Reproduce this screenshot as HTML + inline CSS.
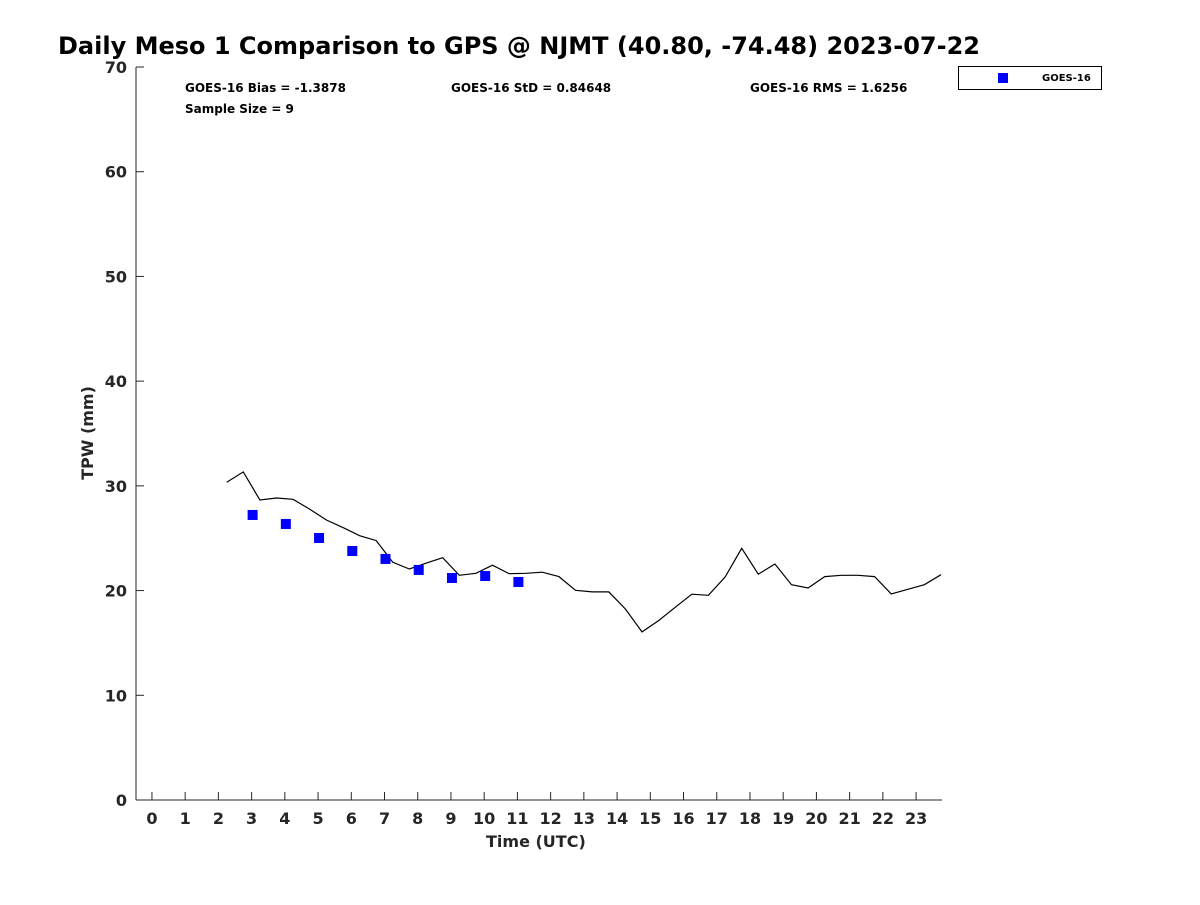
<!DOCTYPE html>
<html><head><meta charset="utf-8"><style>
body{margin:0;background:#fff;}
svg text{font-family:"DejaVu Sans","Liberation Sans",sans-serif;font-weight:bold;}
</style></head><body>
<svg id="chart" width="1200" height="900" viewBox="0 0 1200 900">
<text x="58" y="54" font-size="24" fill="#000">Daily Meso 1 Comparison to GPS @ NJMT (40.80, -74.48) 2023-07-22</text>
<g id="axes"></g>
<g id="plot"></g>
<text x="185" y="92" font-size="12" fill="#000">GOES-16 Bias = -1.3878</text>
<text x="451" y="92" font-size="12" fill="#000">GOES-16 StD = 0.84648</text>
<text x="750" y="92" font-size="12" fill="#000">GOES-16 RMS = 1.6256</text>
<text x="185" y="113" font-size="12" fill="#000">Sample Size = 9</text>
<g>
<rect x="958.5" y="66.5" width="143" height="23" fill="#fff" stroke="#000" stroke-width="1"/>
<rect x="998" y="73" width="10" height="10" fill="#0000ff"/>
<text x="1042" y="81" font-size="10" fill="#000">GOES-16</text>
</g>
<text x="486" y="847" font-size="16" fill="#262626">Time (UTC)</text>
<text transform="translate(93,433) rotate(-90)" text-anchor="middle" font-size="16" fill="#262626">TPW (mm)</text>
</svg>
<script>
const gpsTimes=[2.25,2.75,3.25,3.75,4.25,4.75,5.25,5.75,6.25,6.75,7.25,7.75,8.25,8.75,9.25,9.75,10.25,10.75,11.25,11.75,12.25,12.75,13.25,13.75,14.25,14.75,15.25,15.75,16.25,16.75,17.25,17.75,18.25,18.75,19.25,19.75,20.25,20.75,21.25,21.75,22.25,22.75,23.25,23.75];
const gpsValues=[30.34,31.33,28.65,28.84,28.72,27.77,26.74,26.01,25.24,24.77,22.70,22.06,22.61,23.14,21.46,21.65,22.42,21.61,21.65,21.75,21.33,20.03,19.87,19.87,18.24,16.05,17.13,18.40,19.65,19.55,21.30,24.04,21.56,22.54,20.56,20.25,21.33,21.46,21.46,21.33,19.68,20.12,20.56,21.52];
const goesTimes=[3.03,4.03,5.03,6.03,7.03,8.03,9.03,10.03,11.03];
const goesValues=[27.22,26.36,25.02,23.78,23.02,21.97,21.20,21.39,20.82];
const xTicks=[0,1,2,3,4,5,6,7,8,9,10,11,12,13,14,15,16,17,18,19,20,21,22,23];
const yTicks=[0,10,20,30,40,50,60,70];
const NS='http://www.w3.org/2000/svg';
const X0=136,X1=942,Y0=800,Y1=67,xmin=-0.48,xmax=23.78,ymin=0,ymax=70;
function xs(v){return X0+(v-xmin)/(xmax-xmin)*(X1-X0);}
function ys(v){return Y0-(v-ymin)/(ymax-ymin)*(Y0-Y1);}
function mk(tag,attrs,parent){const e=document.createElementNS(NS,tag);for(const k in attrs)e.setAttribute(k,attrs[k]);parent.appendChild(e);return e;}
const axes=document.getElementById('axes'),plot=document.getElementById('plot');
let a=mk('line',{x1:X0,y1:Y0,x2:X1,y2:Y0,stroke:'#262626','stroke-width':1},axes);


a=mk('line',{x1:X0,y1:Y0,x2:X0,y2:Y1,stroke:'#262626','stroke-width':1},axes);


xTicks.forEach(t=>{const x=xs(t);
 const l=mk('line',{x1:x,y1:Y0,x2:x,y2:Y0-8,stroke:'#262626'},axes);
 
 
 const tx=mk('text',{x:x,y:824,'text-anchor':'middle','font-size':16,fill:'#262626'},axes);tx.textContent=t;
 
 });
yTicks.forEach(t=>{const y=ys(t);
 const l=mk('line',{x1:X0,y1:y,x2:X0+8,y2:y,stroke:'#262626'},axes);
 
 
 const tx=mk('text',{x:127,y:y+6,'text-anchor':'end','font-size':16,fill:'#262626'},axes);tx.textContent=t;
 
 });
const pts=gpsTimes.map((t,i)=>xs(t).toFixed(1)+','+ys(gpsValues[i]).toFixed(1)).join(' ');
const pl=mk('polyline',{points:pts,fill:'none',stroke:'#000','stroke-width':1.2},plot);


goesTimes.forEach((t,i)=>{const r=mk('rect',{x:xs(t)-5,y:ys(goesValues[i])-5,width:10,height:10,fill:'#0000ff'},plot);
 
 });
</script>
</body></html>
